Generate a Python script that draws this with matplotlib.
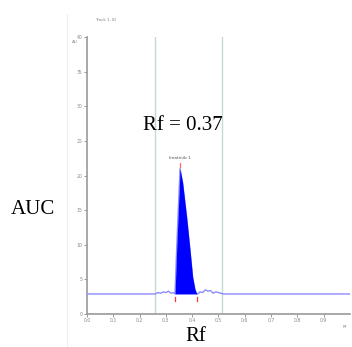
import matplotlib.pyplot as plt

# Densitogram trace (Rf vs. signal)
rf = [0.00, 0.20, 0.26, 0.27, 0.28, 0.29, 0.30, 0.31, 0.32, 0.33, 0.335,
      0.341, 0.354, 0.364, 0.379, 0.392, 0.402, 0.411, 0.418, 0.425, 0.43,
      0.44, 0.45, 0.46, 0.47, 0.48, 0.49, 0.50, 0.51, 0.52, 0.60, 1.00]
signal = [2.9, 2.9, 2.9, 3.1, 3.0, 3.2, 3.1, 3.3, 3.0, 3.1, 2.9,
          9.2, 21.0, 18.9, 14.0, 9.2, 5.3, 3.5, 2.9, 3.0, 3.2,
          3.1, 3.5, 3.3, 3.4, 3.0, 3.2, 3.1, 3.0, 2.9, 2.9, 2.9]
baseline = 2.9
peak_start, peak_end = 0.335, 0.418
peak_rf, peak_height = 0.354, 21.0
peak_name = "Imatinib 1"
window = [0.26, 0.515]

x_ticks = [0.0, 0.1, 0.2, 0.3, 0.4, 0.5, 0.6, 0.7, 0.8, 0.9]
y_ticks = [0, 5, 10, 15, 20, 25, 30, 35, 40]

fig = plt.figure(figsize=(3.52, 3.47), dpi=100)
ax = fig.add_axes([0.247, 0.095, 0.747, 0.798])

# integration window
for w in window:
    ax.axvline(w, color="#c3dbd5", lw=1.0, zorder=1)

ax.plot(rf, signal, color="#8c8cff", lw=1.0, zorder=3)

# filled peak area
px = [r for r in rf if peak_start <= r <= peak_end]
py = [s for r, s in zip(rf, signal) if peak_start <= r <= peak_end]
ax.fill_between(px, baseline, py, color="#0000ff", lw=0, zorder=4)

# peak start / end / top markers
for r in (peak_start, peak_end):
    ax.plot([r, r], [baseline - 1.0, baseline - 0.4], color="#ff3b3b", lw=0.9)
ax.plot([peak_rf, peak_rf], [peak_height + 0.2, peak_height + 0.8],
        color="#ff6b6b", lw=0.9)
ax.text(peak_rf, peak_height + 1.3, peak_name, fontsize=3.2, ha="center",
        va="bottom", color="#555555")

ax.set_xlim(0, 1.0)
ax.set_ylim(0, 40)
ax.set_xticks(x_ticks)
ax.set_xticklabels([f"{t:.1f}" for t in x_ticks])
ax.set_yticks(y_ticks)
ax.set_yticklabels([f"{t:.0f}" for t in y_ticks])
ax.tick_params(labelsize=3.3, colors="#888888", length=2, width=0.6, pad=1)
for s in ("top", "right"):
    ax.spines[s].set_visible(False)
for s in ("left", "bottom"):
    ax.spines[s].set_color("#9a9a9a")
    ax.spines[s].set_linewidth(1.2)

# small screenshot captions
fig.text(0.27, 0.94, "Track 1, ID", fontsize=3, color="#888888")
fig.text(0.205, 0.875, "AU", fontsize=3, color="#888888")
fig.text(0.985, 0.055, "Rf", fontsize=3, color="#888888", ha="right")

# faint frame of the pasted screenshot
fig.add_artist(plt.Line2D([0.19, 0.19], [0.0, 0.96], color="#eeeeee", lw=0.8))

# big annotation labels
serif = ["Liberation Serif", "DejaVu Serif"]
fig.text(0.405, 0.638, "Rf = 0.37", fontsize=15, family=serif,
         ha="left", va="center")
fig.text(0.03, 0.395, "AUC", fontsize=15, family=serif, ha="left", va="center")
fig.text(0.555, 0.03, "Rf", fontsize=15, family=serif, ha="center", va="center")

fig.savefig("out.png", dpi=100)
